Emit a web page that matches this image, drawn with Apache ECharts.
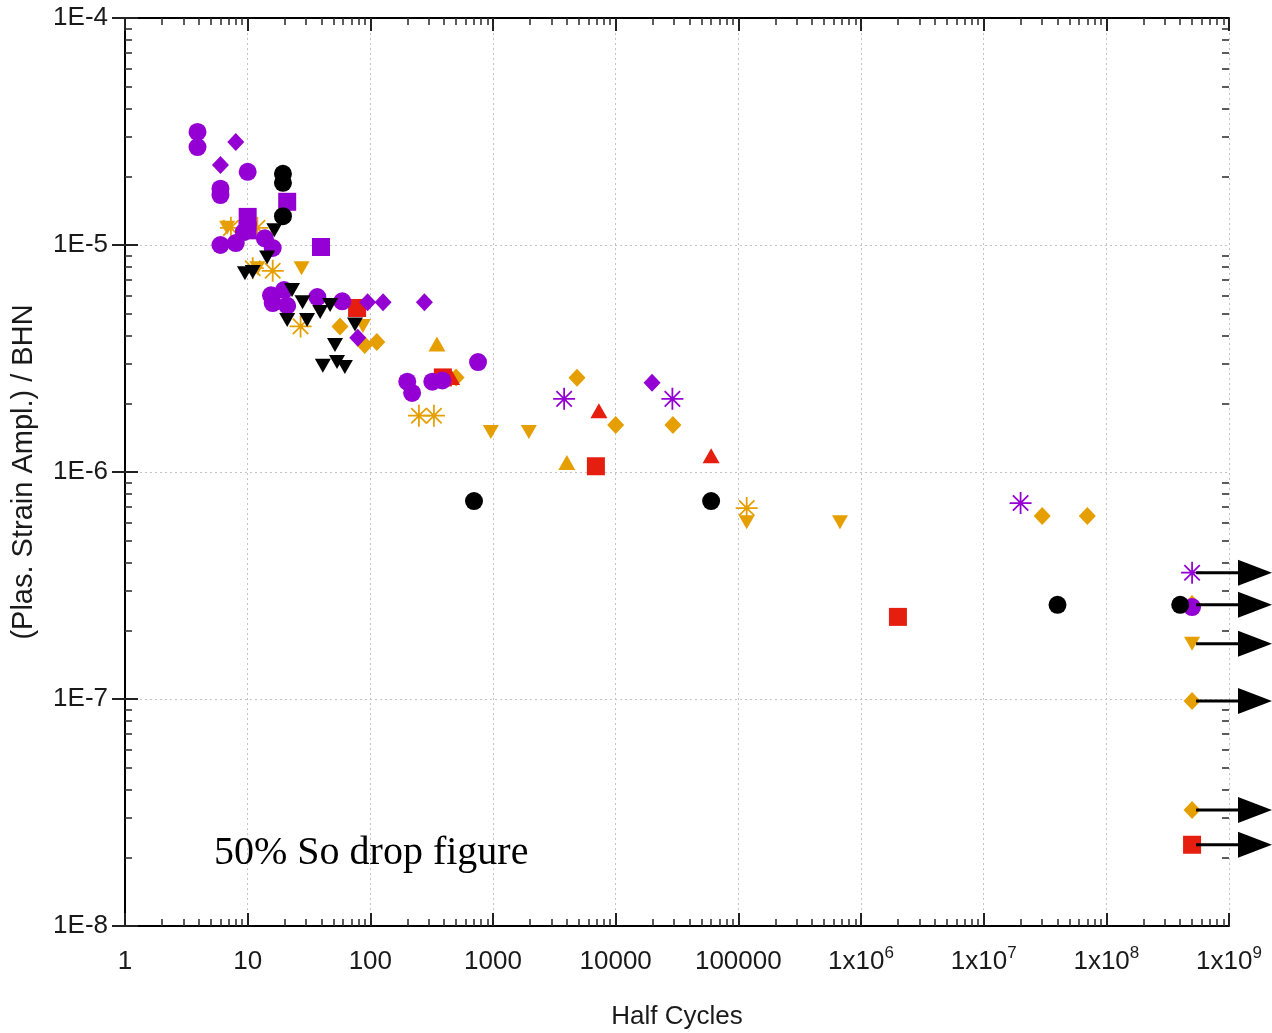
<!DOCTYPE html>
<html><head><meta charset="utf-8">
<script src="https://cdn.jsdelivr.net/npm/echarts@6/dist/echarts.min.js"></script>
<style>html,body{margin:0;padding:0;background:#fff}#c{width:1272px;height:1033px}</style>
</head><body><div id="c"></div>
<script>
// ---- data (x = half cycles, y = plastic strain amplitude / BHN) ----
const purpleCircles = [[3.9,3.15e-5],[3.9,2.7e-5],[10,2.1e-5],[6,1.77e-5],[6,1.66e-5],[6,1.0e-5],[8,1.02e-5],[9.3,1.14e-5],[13.8,1.07e-5],[16,9.7e-6],[15.5,6.0e-6],[16,5.55e-6],[19.8,6.33e-6],[21,5.4e-6],[37,5.9e-6],[59,5.65e-6],[200,2.5e-6],[219,2.23e-6],[320,2.5e-6],[387,2.53e-6],[755,3.05e-6],[5e8,2.54e-7]];
const purpleDiamonds = [[6,2.25e-5],[8,2.84e-5],[95,5.6e-6],[127,5.6e-6],[276,5.6e-6],[79,3.9e-6],[19800,2.47e-6]];
const purpleSquares = [[10,1.33e-5],[10,1.16e-5],[21,1.55e-5],[39.6,9.8e-6]];
const purpleStars = [[3800,2.1e-6],[29000,2.1e-6],[2.0e7,7.3e-7],[5e8,3.6e-7]];
const blackCircles = [[19.4,2.06e-5],[19.4,1.88e-5],[19.4,1.34e-5],[700,7.45e-7],[60000,7.45e-7],[4e7,2.6e-7],[4e8,2.6e-7]];
const blackDownTri = [[9.5,7.5e-6],[11,7.6e-6],[16.5,1.16e-5],[14.4,8.8e-6],[23,6.33e-6],[28,5.6e-6],[21,4.67e-6],[30.5,4.67e-6],[39,5.07e-6],[47,5.44e-6],[75,4.47e-6],[51.5,3.63e-6],[41,2.94e-6],[53.5,3.05e-6],[62,2.9e-6]];
const orangeDownTri = [[6.8,1.19e-5],[12,7.9e-6],[27.5,7.9e-6],[87,4.4e-6],[960,1.5e-6],[1960,1.5e-6],[117000,6.0e-7],[674000,6.0e-7],[5e8,1.75e-7]];
const orangeUpTri = [[349,3.66e-6],[4000,1.1e-6]];
const orangeDiamonds = [[56.6,4.38e-6],[90,3.63e-6],[113,3.74e-6],[500,2.61e-6],[4840,2.6e-6],[10000,1.61e-6],[29300,1.61e-6],[3e7,6.4e-7],[7e7,6.4e-7],[5e8,2.62e-7],[5e8,9.8e-8],[5e8,3.24e-8]];
const orangeStars = [[7.3,1.19e-5],[12,1.19e-5],[11,7.9e-6],[16,7.7e-6],[27,4.38e-6],[249,1.77e-6],[330,1.77e-6],[117000,6.94e-7]];
const redSquares = [[78,5.28e-6],[390,2.61e-6],[6900,1.06e-6],[2.0e6,2.3e-7],[5e8,2.28e-8]];
const redUpTri = [[460,2.61e-6],[7300,1.86e-6],[60000,1.18e-6]];
const arrowX = 5e8;
const arrowYs = [3.6e-7, 2.6e-7, 1.75e-7, 9.8e-8, 3.24e-8, 2.28e-8];
const xTickLabels = ['1','10','100','1000','10000','100000','1x10{s|6}','1x10{s|7}','1x10{s|8}','1x10{s|9}'];
const yTickLabels = ['1E-8','1E-7','1E-6','1E-5','1E-4'];
const annotation = '50% So drop figure';
const xTitle = 'Half Cycles';
const yTitle = '(Plas. Strain Ampl.) / BHN';

const PURPLE = '#9400D3', ORANGE = '#E69F00', RED = '#E51E10', BLACK = '#000000';
const STAR = 'path://M46 0L54 0L54 100L46 100Z M0 46L100 46L100 54L0 54Z M17.83 12.17L87.83 82.17L82.17 87.83L12.17 17.83Z M87.83 17.83L17.83 87.83L12.17 82.17L82.17 12.17Z';
const FONT = '"Liberation Sans", Arial, sans-serif';

function minorLogs(lo, hi) {
  const out = [];
  for (let n = lo; n < hi; n++) for (let k = 2; k <= 9; k++) out.push(n + Math.log10(k));
  return out;
}

function sc(name, data, color, symbol, size, rotate) {
  return { name, type: 'scatter', data, xAxisIndex: 0, yAxisIndex: 0,
    symbol, symbolSize: size, symbolRotate: rotate || 0,
    itemStyle: { color, opacity: 1 }, emphasis: { disabled: true }, silent: true };
}

const chart = echarts.init(document.getElementById('c'), null, { renderer: 'canvas' });

const logAxisX = (pos, withLabels) => ({
  type: 'log', logBase: 10, min: 1, max: 1e9, interval: 1, position: pos, gridIndex: 0,
  axisLine: { show: true, lineStyle: { color: '#000', width: 2 } },
  axisTick: { show: true, inside: true, length: 13, lineStyle: { color: '#222', width: 2 } },
  minorTick: { show: false },
  splitLine: { show: withLabels, lineStyle: { color: '#c4c4c4', type: [2, 3], width: 1 } },
  axisLabel: withLabels ? {
    show: true, margin: 19, color: '#1a1a1a', fontSize: 26, fontFamily: FONT, lineHeight: 34,
    formatter: v => xTickLabels[Math.round(Math.log10(v))],
    rich: { s: { fontSize: 17, lineHeight: 13, verticalAlign: 'top', fontFamily: FONT, color: '#1a1a1a' } }
  } : { show: false },
  name: withLabels ? xTitle : '', nameLocation: 'middle', nameGap: 78,
  nameTextStyle: { fontSize: 26, fontFamily: FONT, color: '#1a1a1a' }
});
const logAxisY = (pos, withLabels) => ({
  type: 'log', logBase: 10, min: 1e-8, max: 1e-4, interval: 1, position: pos, gridIndex: 0,
  axisLine: { show: true, lineStyle: { color: '#000', width: 2 } },
  axisTick: { show: true, inside: true, length: 13, lineStyle: { color: '#222', width: 2 } },
  minorTick: { show: false },
  splitLine: { show: withLabels, lineStyle: { color: '#c4c4c4', type: [2, 3], width: 1 } },
  axisLabel: withLabels ? {
    show: true, margin: 17, color: '#1a1a1a', fontSize: 26, fontFamily: FONT,
    formatter: v => yTickLabels[Math.round(Math.log10(v)) + 8]
  } : { show: false },
  name: withLabels ? yTitle : '', nameLocation: 'middle', nameGap: 87, nameRotate: 90,
  nameTextStyle: { fontSize: 29, fontFamily: FONT, color: '#1a1a1a' }
});
const minorAxis = (type, pos, lo, hi) => ({
  type: 'value', min: lo, max: hi, position: pos, gridIndex: 0,
  axisLine: { show: false }, axisLabel: { show: false }, splitLine: { show: false },
  axisTick: { show: true, inside: true, length: 7, customValues: minorLogs(lo, hi), lineStyle: { color: '#333', width: 1.6 } }
});

chart.setOption({
  animation: false,
  backgroundColor: '#ffffff',
  grid: { left: 125, top: 18, right: 43, bottom: 107, containLabel: false, outerBoundsMode: 'none' },
  xAxis: [logAxisX('bottom', true), logAxisX('top', false), minorAxis('x', 'bottom', 0, 9), minorAxis('x', 'top', 0, 9)],
  yAxis: [logAxisY('left', true), logAxisY('right', false), minorAxis('y', 'left', -8, -4), minorAxis('y', 'right', -8, -4)],
  series: [
    sc('orange stars', orangeStars, ORANGE, STAR, 22),
    sc('orange diamonds', orangeDiamonds, ORANGE, 'diamond', [17, 18]),
    sc('orange up', orangeUpTri, ORANGE, 'triangle', [17, 15]),
    sc('orange down', orangeDownTri, ORANGE, 'triangle', [16, 14], 180),
    sc('red squares', redSquares, RED, 'rect', 18),
    sc('red up', redUpTri, RED, 'triangle', [17, 15]),
    sc('purple squares', purpleSquares, PURPLE, 'rect', 18),
    sc('purple circles', purpleCircles, PURPLE, 'circle', 18),
    sc('purple diamonds', purpleDiamonds, PURPLE, 'diamond', [17, 18]),
    sc('purple stars', purpleStars, PURPLE, STAR, 22),
    sc('black circles', blackCircles, BLACK, 'circle', 18),
    sc('black down', blackDownTri, BLACK, 'triangle', [16, 14], 180)
  ]
});

// arrows pointing right from the run-out points
const W = 1272;
const g = [];
arrowYs.forEach(v => {
  const p = chart.convertToPixel({ xAxisIndex: 0, yAxisIndex: 0 }, [arrowX, v]);
  const y = p[1];
  g.push({ type: 'line', shape: { x1: p[0] + 4, y1: y, x2: W - 30, y2: y }, style: { stroke: '#000', lineWidth: 3 }, z: 100 });
  g.push({ type: 'polygon', shape: { points: [[W - 34, y - 13], [W, y], [W - 34, y + 13]] }, style: { fill: '#000' }, z: 100 });
});
g.push({ type: 'text', left: 214, top: 833, style: { text: annotation, font: '40px "Liberation Serif", "Times New Roman", serif', fill: '#000' }, z: 100 });
chart.setOption({ graphic: g });
</script></body></html>
